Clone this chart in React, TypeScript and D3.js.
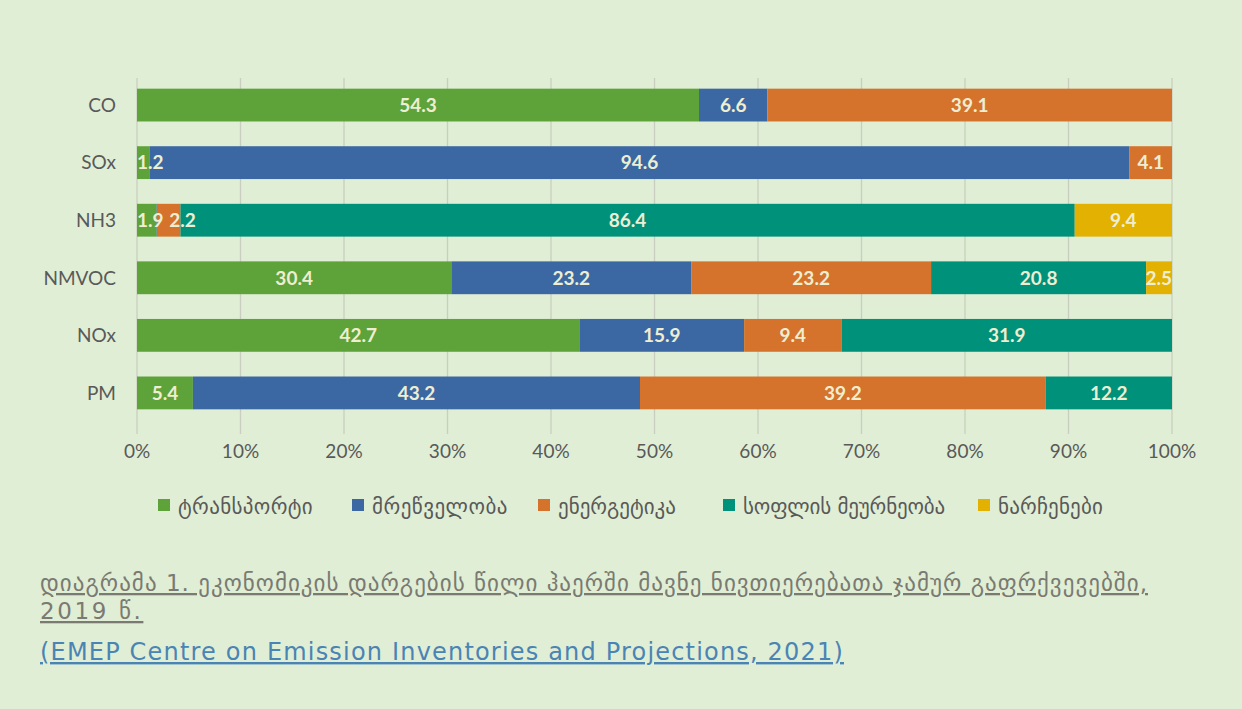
import React, { useLayoutEffect, useRef, useState } from "react";
import * as d3 from "d3";

const categories = ["CO", "SOx", "NH3", "NMVOC", "NOx", "PM"];
const seriesNames = ["ტრანსპორტი", "მრეწველობა", "ენერგეტიკა", "სოფლის მეურნეობა", "ნარჩენები"];
const seriesColors = ["#5ea23a", "#3b67a2", "#d5722b", "#00917b", "#e2b102"];
const transport = [54.3, 1.2, 1.9, 30.4, 42.7, 5.4];
const industry = [6.6, 94.6, 0.1, 23.2, 15.9, 43.2];
const energy = [39.1, 4.1, 2.2, 23.2, 9.4, 39.2];
const agriculture = [0, 0, 86.4, 20.8, 31.9, 12.2];
const waste = [0, 0, 9.4, 2.5, 0, 0];
const ticks = [0, 10, 20, 30, 40, 50, 60, 70, 80, 90, 100];
const captionLine1 = "დიაგრამა 1. ეკონომიკის დარგების წილი ჰაერში მავნე ნივთიერებათა ჯამურ გაფრქვევებში,";
const captionLine2 = "2019 წ. ";
const sourceText = "(EMEP Centre on Emission Inventories and Projections, 2021)";

const allSeries = [transport, industry, energy, agriculture, waste];

function FitText(props: any) {
  const { target, children, ...rest } = props;
  const ref = useRef<SVGTextElement>(null);
  const [ls, setLs] = useState(0);
  useLayoutEffect(() => {
    const el = ref.current;
    if (!el) return;
    el.style.letterSpacing = "0px";
    const len = el.getComputedTextLength();
    const n = String(children).length;
    setLs((target - len) / n);
    el.style.letterSpacing = "";
  }, [target, children]);
  return (
    <text ref={ref} {...rest} style={{ letterSpacing: ls + "px" }}>
      {children}
    </text>
  );
}

export default function App() {
  const W = 1242, H = 709;
  const left = 137, right = 1172, top = 76, bottom = 422;
  const x = d3.scaleLinear().domain([0, 100]).range([left, right]);
  const y = d3.scaleBand().domain(categories).range([top, bottom]).paddingInner(0.43).paddingOuter(0.22);
  const numFont = "Lato, 'Open Sans', sans-serif";
  const geoFont = "'DejaVu Sans', sans-serif";

  const rows = categories.map((c, i) => {
    const vals = allSeries.map((s) => s[i]);
    const total = d3.sum(vals);
    let acc = 0;
    const segs = vals.map((v, k) => {
      const x0 = (acc / total) * 100;
      acc += v;
      const x1 = (acc / total) * 100;
      return { k, v, x0, x1 };
    });
    let prevRight = left;
    const labels: { k: number; text: string; cx: number }[] = [];
    segs.forEach((s) => {
      if (s.v < 0.5) return;
      const text = s.v.toFixed(1);
      const w = text.length * 8.8;
      let cx = (x(s.x0) + x(s.x1)) / 2;
      if (cx - w / 2 < prevRight) cx = prevRight + w / 2;
      if (cx + w / 2 > right) cx = right - w / 2;
      prevRight = cx + w / 2 + 6;
      labels.push({ k: s.k, text, cx });
    });
    return { c, segs, labels };
  });

  const legendX = [158, 352, 538, 723, 978];
  const legendW = [135, 136, 118, 202, 105];

  return (
    <svg width={W} height={H} style={{ position: "absolute", left: 0, top: 0, display: "block" }}>
      <rect x={0} y={0} width={W} height={H} fill="#e0eed5" />
      {ticks.map((t) => (
        <line key={t} x1={x(t)} x2={x(t)} y1={78} y2={434} stroke="#c9cec0" strokeWidth={1.3} />
      ))}
      {rows.map((r) => (
        <g key={r.c}>
          {r.segs.map((s) =>
            s.v > 0 ? (
              <rect
                key={s.k}
                x={x(s.x0)}
                y={y(r.c)!}
                width={x(s.x1) - x(s.x0)}
                height={y.bandwidth()}
                fill={seriesColors[s.k]}
              />
            ) : null
          )}
          {r.labels.map((l) => (
            <text
              key={l.k}
              x={l.cx}
              y={y(r.c)! + y.bandwidth() / 2}
              dy="0.36em"
              textAnchor="middle"
              fontFamily={numFont}
              fontWeight="bold"
              fontSize={19}
              fill="#eeeed2"
            >
              {l.text}
            </text>
          ))}
          <text
            x={116}
            y={y(r.c)! + y.bandwidth() / 2}
            dy="0.36em"
            textAnchor="end"
            fontFamily={numFont}
            fontSize={19}
            fill="#595959"
          >
            {r.c}
          </text>
        </g>
      ))}
      {ticks.map((t) => (
        <text key={"l" + t} x={x(t)} y={451} dy="0.36em" textAnchor="middle" fontFamily={numFont} fontSize={19} fill="#595959">
          {t + "%"}
        </text>
      ))}
      {seriesNames.map((n, k) => (
        <g key={n}>
          <rect x={legendX[k]} y={499} width={12} height={12} fill={seriesColors[k]} />
          <FitText x={legendX[k] + 20} y={506} dy="0.36em" fontFamily={geoFont} fontSize={21} fill="#595959" target={legendW[k]}>
            {n}
          </FitText>
        </g>
      ))}
      <FitText x={40} y={591} fontFamily={geoFont} fontSize={23} fill="#7a7a72" textDecoration="underline" target={1108}>
        {captionLine1}
      </FitText>
      <FitText x={40} y={619} fontFamily={geoFont} fontSize={23} fill="#7a7a72" textDecoration="underline" target={106}>
        {captionLine2}
      </FitText>
      <FitText x={40} y={660} fontFamily={geoFont} fontSize={24} fill="#4a84b4" textDecoration="underline" target={804}>
        {sourceText}
      </FitText>
    </svg>
  );
}
